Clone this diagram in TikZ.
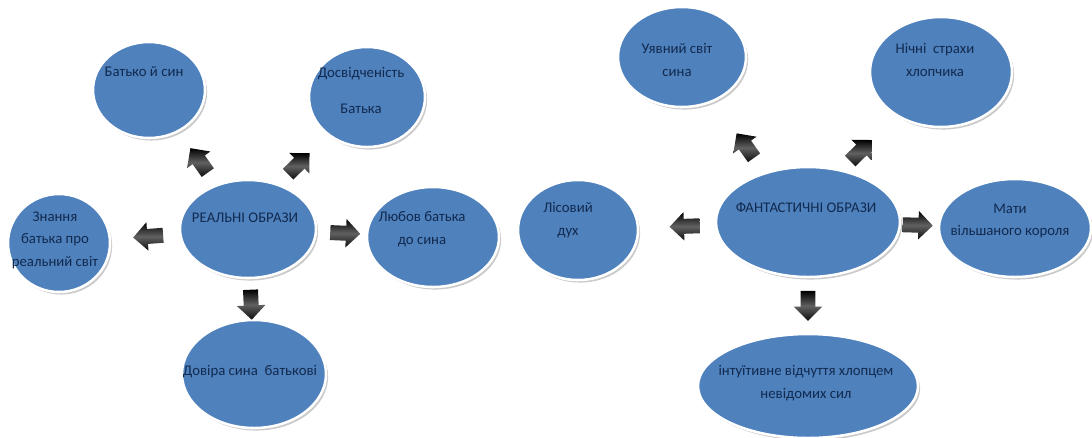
\documentclass[tikz,border=0pt]{standalone}
\usepackage{fontspec}
\setmainfont{Carlito}
\usetikzlibrary{shapes.geometric,shapes.arrows,shadows,calc}
\definecolor{bubbleblue}{HTML}{4F81BD}
\definecolor{bubbletext}{HTML}{112A4F}

\tikzset{
  bubble/.style={ellipse, fill=bubbleblue, draw=white, line width=1.8pt, inner sep=0pt,
    drop shadow={shadow xshift=1.5pt, shadow yshift=-1.8pt, opacity=0.35, fill=black!60}},
  bubbletxt/.style={font=\fontsize{10.5}{16}\selectfont, text=bubbletext, align=center, inner sep=0pt},
  blockarrow/.style={single arrow, minimum height=0.75cm, minimum width=0.7cm,
    single arrow head extend=0.17cm, inner xsep=0pt, inner ysep=0.18cm, sloped, allow upside down,
    top color=black, bottom color=black!95, middle color=black!62}
}

\begin{document}
\begin{tikzpicture}[x=0.025cm, y=-0.025cm]
\useasboundingbox (0,0) rectangle (1092,437);

% real images
\node[bubble, minimum width=3.4cm, minimum height=2.45cm] (realn) at (248,229) {};
\node[bubble, minimum width=2.8cm, minimum height=2.4cm] (batko) at (149,90) {};
\node[bubble, minimum width=2.9cm, minimum height=2.5cm] (dosvid) at (367,97) {};
\node[bubble, minimum width=2.55cm, minimum height=2.45cm] (znannya) at (59,243) {};
\node[bubble, minimum width=3.3cm, minimum height=2.5cm] (lyubov) at (433,237) {};
\node[bubble, minimum width=3.6cm, minimum height=2.7cm] (dovira) at (254,374) {};

\node[bubbletxt] (realn-t) at ($(realn)+(-3,-11)$) {РЕАЛЬНІ ОБРАЗИ};
\node[bubbletxt] (batko-t) at ($(batko)+(-5,-18)$) {Батько й син};
\node[bubbletxt] (dosvid-t) at ($(dosvid)+(-6,-7)$) {Досвідченість\\[9.6pt]Батька};
\node[bubbletxt] (znannya-t) at ($(znannya)+(-4,-3)$) {Знання\\батька про\\реальний світ};
\node[bubbletxt] (lyubov-t) at ($(lyubov)+(-11,-8)$) {Любов батька\\до сина};
\node[bubbletxt] (dovira-t) at ($(dovira)+(-4,-2)$) {Довіра сина\ \ батькові};

\path (realn) -- node[blockarrow, pos=0.4] (realn-a1) {} (batko);
\path ([xshift=-0.4cm]realn.center) -- node[blockarrow, pos=0.67] (realn-a2) {} (dosvid);
\path (realn) -- node[blockarrow, pos=0.4] (realn-a3) {} (znannya);
\path (realn) -- node[blockarrow, pos=0.5] (realn-a4) {} (lyubov);
\path (realn) -- node[blockarrow, pos=0.55] (realn-a5) {} (dovira);

% fantastic images
\node[bubble, minimum width=4.6cm, minimum height=2.75cm] (fantast) at (808,222) {};
\node[bubble, minimum width=3.2cm, minimum height=2.5cm] (uyavnyi) at (682,57) {};
\node[bubble, minimum width=3.55cm, minimum height=2.75cm] (nichni) at (941,72) {};
\node[bubble, minimum width=3.0cm, minimum height=2.5cm] (lisovyi) at (578,230) {};
\node[bubble, minimum width=3.8cm, minimum height=2.45cm] (maty) at (1015,228) {};
\node[bubble, minimum width=5.5cm, minimum height=2.6cm] (intuit) at (808,386) {};

\node[bubbletxt] (fantast-t) at ($(fantast)+(-2,-14)$) {ФАНТАСТИЧНІ ОБРАЗИ};
\node[bubbletxt] (uyavnyi-t) at ($(uyavnyi)+(-5,3)$) {Уявний світ\\сина};
\node[bubbletxt] (nichni-t) at ($(nichni)+(-6,-12)$) {Нічні\ \ страхи\\хлопчика};
\node[bubbletxt] (lisovyi-t) at ($(lisovyi)+(-10,-10)$) {Лісовий\\дух};
\node[bubbletxt] (maty-t) at ($(maty)+(-5,-7)$) {Мати\\вільшаного короля};
\node[bubbletxt] (intuit-t) at ($(intuit)+(-2,-3)$) {інтуїтивне відчуття хлопцем\\невідомих сил};

\path ([xshift=-0.2cm]fantast.center) -- node[blockarrow, pos=0.61] (fantast-a1) {} (uyavnyi);
\path ([xshift=-0.5cm]fantast.center) -- node[blockarrow, pos=0.65] (fantast-a2) {} (nichni);
\path (fantast) -- node[blockarrow, pos=0.35] (fantast-a3) {} (lisovyi);
\path (fantast) -- node[blockarrow, pos=0.35] (fantast-a4) {} (maty);
\path (fantast) -- node[blockarrow, pos=0.44] (fantast-a5) {} (intuit);
\end{tikzpicture}
\end{document}
